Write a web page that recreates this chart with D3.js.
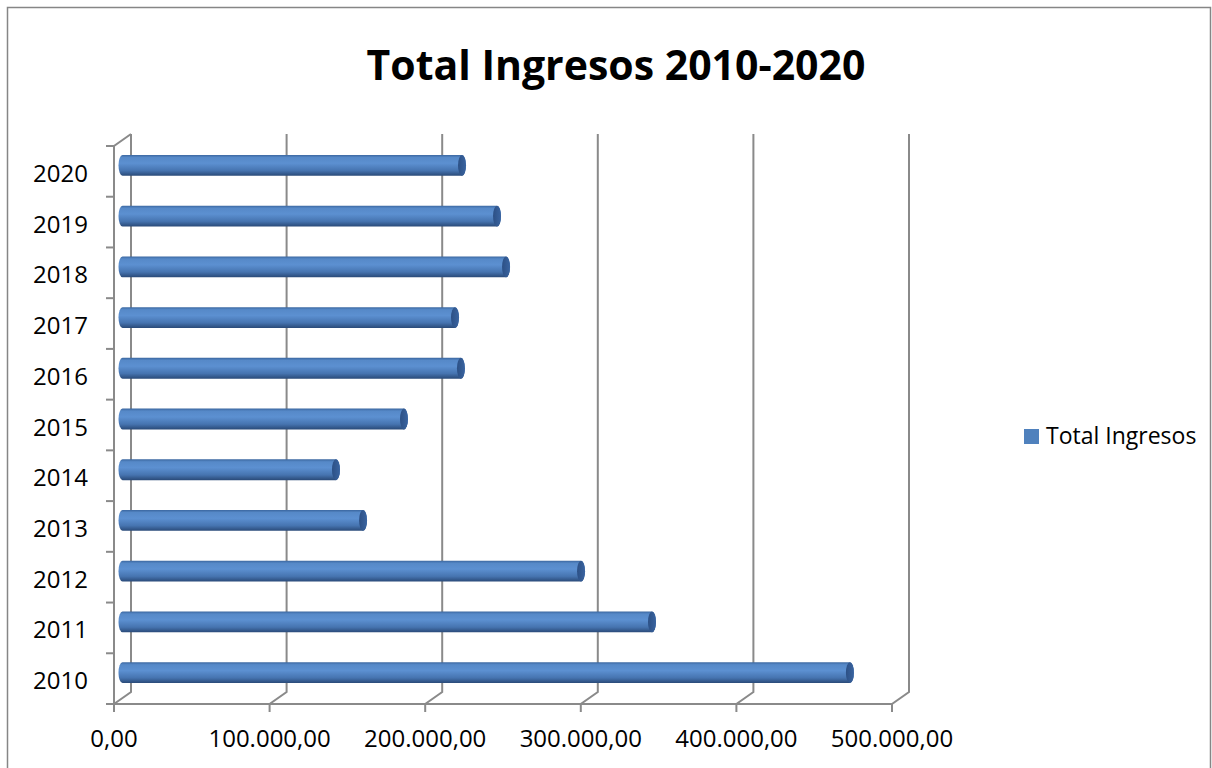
<!DOCTYPE html>
<html>
<head>
<meta charset="utf-8">
<script src="https://cdn.jsdelivr.net/npm/d3@7"></script>
<style>
  body { margin: 0; background: #fff; }
  text { font-family: "Open Sans", sans-serif; fill: #000; }
</style>
</head>
<body>
<div id="chart"></div>
<script>
const width = 1212;
const height = 768;

// Data
const years = ['2010', '2011', '2012', '2013', '2014', '2015', '2016', '2017', '2018', '2019', '2020'];
const ingresos = [467500, 340300, 294700, 154600, 137200, 180900, 217500, 213700, 246500, 240700, 218200];
const xTicks = [0, 100000, 200000, 300000, 400000, 500000];
const seriesName = 'Total Ingresos';

// 3D depth of the plot box
const dx = 17, dy = -12;

const locale = d3.formatLocale({ decimal: ',', thousands: '.', grouping: [3], currency: ['', ''] });
const fmt = locale.format(',.2f');

const x = d3.scaleLinear().domain([0, 500000]).range([114, 892]);
const y = d3.scaleBand()
    .domain(years.slice().reverse())
    .range([146, 704])
    .paddingInner(0.59)
    .paddingOuter(0.295);

const svg = d3.select('#chart').append('svg')
    .attr('width', width)
    .attr('height', height);

// gradient for cylinders
const defs = svg.append('defs');
const grad = defs.append('linearGradient')
    .attr('id', 'cyl')
    .attr('x1', 0).attr('y1', 0).attr('x2', 0).attr('y2', 1);
[['0%', '#3b67a0'], ['12%', '#5689c8'], ['40%', '#5c90d1'], ['75%', '#4674b0'], ['100%', '#2a4a78']]
    .forEach(s => grad.append('stop').attr('offset', s[0]).attr('stop-color', s[1]));
const capGrad = defs.append('linearGradient')
    .attr('id', 'cap')
    .attr('x1', 0).attr('y1', 0).attr('x2', 1).attr('y2', 0);
[['0%', '#2c5085'], ['100%', '#3a64a0']]
    .forEach(s => capGrad.append('stop').attr('offset', s[0]).attr('stop-color', s[1]));

// outer border
svg.append('rect')
    .attr('x', 7.5).attr('y', 7.5)
    .attr('width', 1203).attr('height', 800)
    .attr('fill', 'none')
    .attr('stroke', '#868686')
    .attr('stroke-width', 1.5);

// title
svg.append('text')
    .attr('x', 616).attr('y', 80)
    .attr('text-anchor', 'middle')
    .style('font-size', '41px')
    .style('font-weight', 'bold')
    .text('Total Ingresos 2010-2020');

const grid = svg.append('g')
    .attr('stroke', '#8a8a8a')
    .attr('stroke-width', 2)
    .attr('fill', 'none');

const plotTop = y.range()[0], plotBottom = y.range()[1];

// back wall gridlines + floor diagonals + front ticks
xTicks.forEach(v => {
    const xv = x(v);
    grid.append('path')
        .attr('d', `M${xv},${plotBottom + 8}L${xv},${plotBottom}L${xv + dx},${plotBottom + dy}L${xv + dx},${plotTop + dy}`);
});

// front value axis line
grid.append('line')
    .attr('x1', x(0)).attr('x2', x(500000))
    .attr('y1', plotBottom).attr('y2', plotBottom);

// left wall
grid.append('path')
    .attr('d', `M${x(0)},${plotBottom}L${x(0)},${plotTop}L${x(0) + dx},${plotTop + dy}`);

// category ticks
d3.range(years.length + 1).forEach(i => {
    const b = plotTop + i * y.step();
    grid.append('line')
        .attr('x1', x(0) - 8).attr('x2', x(0))
        .attr('y1', b).attr('y2', b);
});

// category labels
svg.append('g').selectAll('text')
    .data(years)
    .join('text')
    .attr('x', 88)
    .attr('y', d => y(d) + y.bandwidth() / 2)
    .attr('dy', '0.44em')
    .attr('text-anchor', 'end')
    .style('font-size', '24px')
    .text(d => d);

// value labels
svg.append('g').selectAll('text')
    .data(xTicks)
    .join('text')
    .attr('x', d => x(d))
    .attr('y', 747)
    .attr('text-anchor', 'middle')
    .style('font-size', '24px')
    .text(d => fmt(d));

// cylinders
const data = years.map((yr, i) => ({ year: yr, value: ingresos[i] }));
const rx = 4;
const bars = svg.append('g').selectAll('g')
    .data(data)
    .join('g');

bars.append('path')
    .attr('fill', 'url(#cyl)')
    .attr('d', d => {
        const x0 = x(0) + dx / 2;
        const x1 = x(d.value) + dx / 2;
        const t = y(d.year) + dy / 2;
        const b = t + y.bandwidth();
        const ry = y.bandwidth() / 2;
        return `M${x0},${t}L${x1},${t}A${rx},${ry} 0 0 1 ${x1},${b}L${x0},${b}A${rx},${ry} 0 0 1 ${x0},${t}Z`;
    });

bars.append('ellipse')
    .attr('cx', d => x(d.value) + dx / 2)
    .attr('cy', d => y(d.year) + dy / 2 + y.bandwidth() / 2)
    .attr('rx', rx)
    .attr('ry', y.bandwidth() / 2)
    .attr('fill', 'url(#cap)');

// legend
const legend = svg.append('g');
legend.append('rect')
    .attr('x', 1024).attr('y', 429)
    .attr('width', 15).attr('height', 15)
    .attr('fill', '#4f81bd');
legend.append('text')
    .attr('x', 1046).attr('y', 444)
    .style('font-size', '23px')
    .text(seriesName);
</script>
</body>
</html>
